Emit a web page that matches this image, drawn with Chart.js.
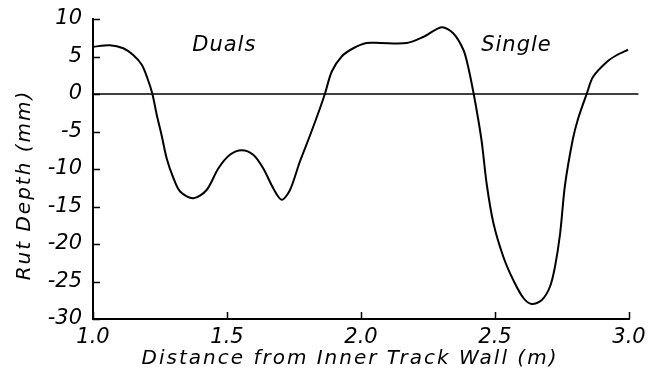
<!DOCTYPE html>
<html>
<head>
<meta charset="utf-8">
<script src="https://cdn.jsdelivr.net/npm/chart.js@4/dist/chart.umd.min.js"></script>
<style>
html,body{margin:0;padding:0;background:#fff;}
#wrap{width:658px;height:379px;position:relative;}
</style>
</head>
<body>
<div id="wrap"><canvas id="c"></canvas></div>
<script>
// Distance from inner track wall (m)
const distance = [1.0, 1.063, 1.113, 1.150, 1.182, 1.203, 1.221, 1.238, 1.256, 1.275, 1.300, 1.325, 1.374, 1.424, 1.468, 1.511, 1.555, 1.598, 1.635, 1.673, 1.704, 1.735, 1.772, 1.810, 1.847, 1.866, 1.891, 1.928, 1.971, 2.021, 2.071, 2.171, 2.232, 2.301, 2.344, 2.382, 2.400, 2.419, 2.438, 2.451, 2.469, 2.494, 2.531, 2.568, 2.606, 2.637, 2.674, 2.705, 2.724, 2.743, 2.761, 2.790, 2.810, 2.843, 2.866, 2.918, 2.955, 2.996];
// Rut depth (mm)
const rutDepth = [6.3, 6.5, 6.1, 5.2, 3.9, 2.1, 0.1, -2.8, -5.5, -8.6, -11.2, -13.0, -13.9, -12.8, -9.9, -8.1, -7.5, -8.1, -9.9, -12.6, -14.1, -12.8, -9.0, -5.5, -1.9, 0.1, 3.0, 5.0, 6.1, 6.8, 6.8, 6.8, 7.6, 8.9, 8.1, 5.9, 3.6, 0.3, -3.5, -6.5, -12.0, -17.2, -21.7, -24.8, -27.2, -28.0, -27.5, -25.7, -23.0, -18.6, -12.2, -6.1, -3.3, 0.1, 2.3, 4.3, 5.2, 5.9];
// zero reference line
const zeroLineX = [1.0, 3.035];
const zeroLineY = [0, 0];
// tick values
const xTicks = [1.0, 1.5, 2.0, 2.5, 3.0];
const yTicks = [-30, -25, -20, -15, -10, -5, 0, 5, 10];
// annotations
const noteTexts = ['Duals', 'Single'];
const noteX = [1.49, 2.58];
const noteY = [6.5, 6.5];
const xTitle = 'Distance from Inner Track Wall (m)';
const yTitle = 'Rut Depth (mm)';

const FONT = '"DejaVu Sans", sans-serif';

const extras = {
  id: 'extras',
  afterDraw(chart) {
    const ctx = chart.ctx, xs = chart.scales.x, ys = chart.scales.y;
    ctx.save();
    ctx.strokeStyle = '#000';
    ctx.lineWidth = 1.5;
    yTicks.forEach(v => {
      const py = Math.round(ys.getPixelForValue(v)) + 0.5;
      ctx.beginPath(); ctx.moveTo(xs.left, py); ctx.lineTo(xs.left + 7, py); ctx.stroke();
    });
    xTicks.forEach(v => {
      const px = Math.round(xs.getPixelForValue(v)) + 0.5;
      ctx.beginPath(); ctx.moveTo(px, ys.bottom); ctx.lineTo(px, ys.bottom - 7); ctx.stroke();
    });
    ctx.fillStyle = '#000';
    ctx.textAlign = 'center';
    ctx.textBaseline = 'middle';
    ctx.font = 'italic 21px ' + FONT;
    try { ctx.letterSpacing = '1px'; } catch(e) {}
    noteTexts.forEach((t, i) => {
      ctx.fillText(t, xs.getPixelForValue(noteX[i]), ys.getPixelForValue(noteY[i]));
    });
    ctx.font = 'italic 20px ' + FONT;
    try { ctx.letterSpacing = '2px'; } catch(e) {}
    ctx.fillText(xTitle, 350, 359);
    ctx.save();
    ctx.translate(25, 185);
    ctx.rotate(-Math.PI / 2);
    ctx.fillText(yTitle, 0, 0);
    ctx.restore();
    ctx.restore();
  }
};

new Chart(document.getElementById('c'), {
  type: 'scatter',
  data: {
    datasets: [
      {
        data: distance.map((x, i) => ({x, y: rutDepth[i]})),
        showLine: true,
        borderColor: '#000',
        borderWidth: 2,
        pointRadius: 0,
        tension: 0.3,
        fill: false
      },
      {
        data: zeroLineX.map((x, i) => ({x, y: zeroLineY[i]})),
        showLine: true,
        borderColor: '#000',
        borderWidth: 1.5,
        pointRadius: 0,
        clip: false
      }
    ]
  },
  options: {
    responsive: true,
    maintainAspectRatio: false,
    animation: false,
    events: [],
    layout: { padding: { left: 0, top: 19, right: 29, bottom: 0 } },
    plugins: { legend: { display: false }, tooltip: { enabled: false } },
    scales: {
      x: {
        type: 'linear',
        min: 1.0, max: 3.0,
        afterBuildTicks: s => { s.ticks = xTicks.map(v => ({value: v})); },
        afterFit: s => { s.height = 60; s.paddingLeft = 0; s.paddingRight = 0; },
        grid: { display: false, drawTicks: false },
        border: { display: true, color: '#000', width: 2 },
        ticks: {
          color: '#000',
          padding: 6,
          maxRotation: 0,
          font: { family: FONT, size: 21, style: 'italic' },
          callback: v => Number(v).toFixed(1)
        }
      },
      y: {
        type: 'linear',
        min: -30, max: 10,
        afterBuildTicks: s => { s.ticks = yTicks.map(v => ({value: v})); },
        afterFit: s => { s.width = 93; s.paddingTop = 0; s.paddingBottom = 0; },
        grid: { display: false, drawTicks: false },
        border: { display: true, color: '#000', width: 2 },
        ticks: {
          color: '#000',
          padding: 11,
          font: { family: FONT, size: 21, style: 'italic' },
          callback: v => String(v)
        }
      }
    }
  },
  plugins: [extras]
});
</script>
</body>
</html>
